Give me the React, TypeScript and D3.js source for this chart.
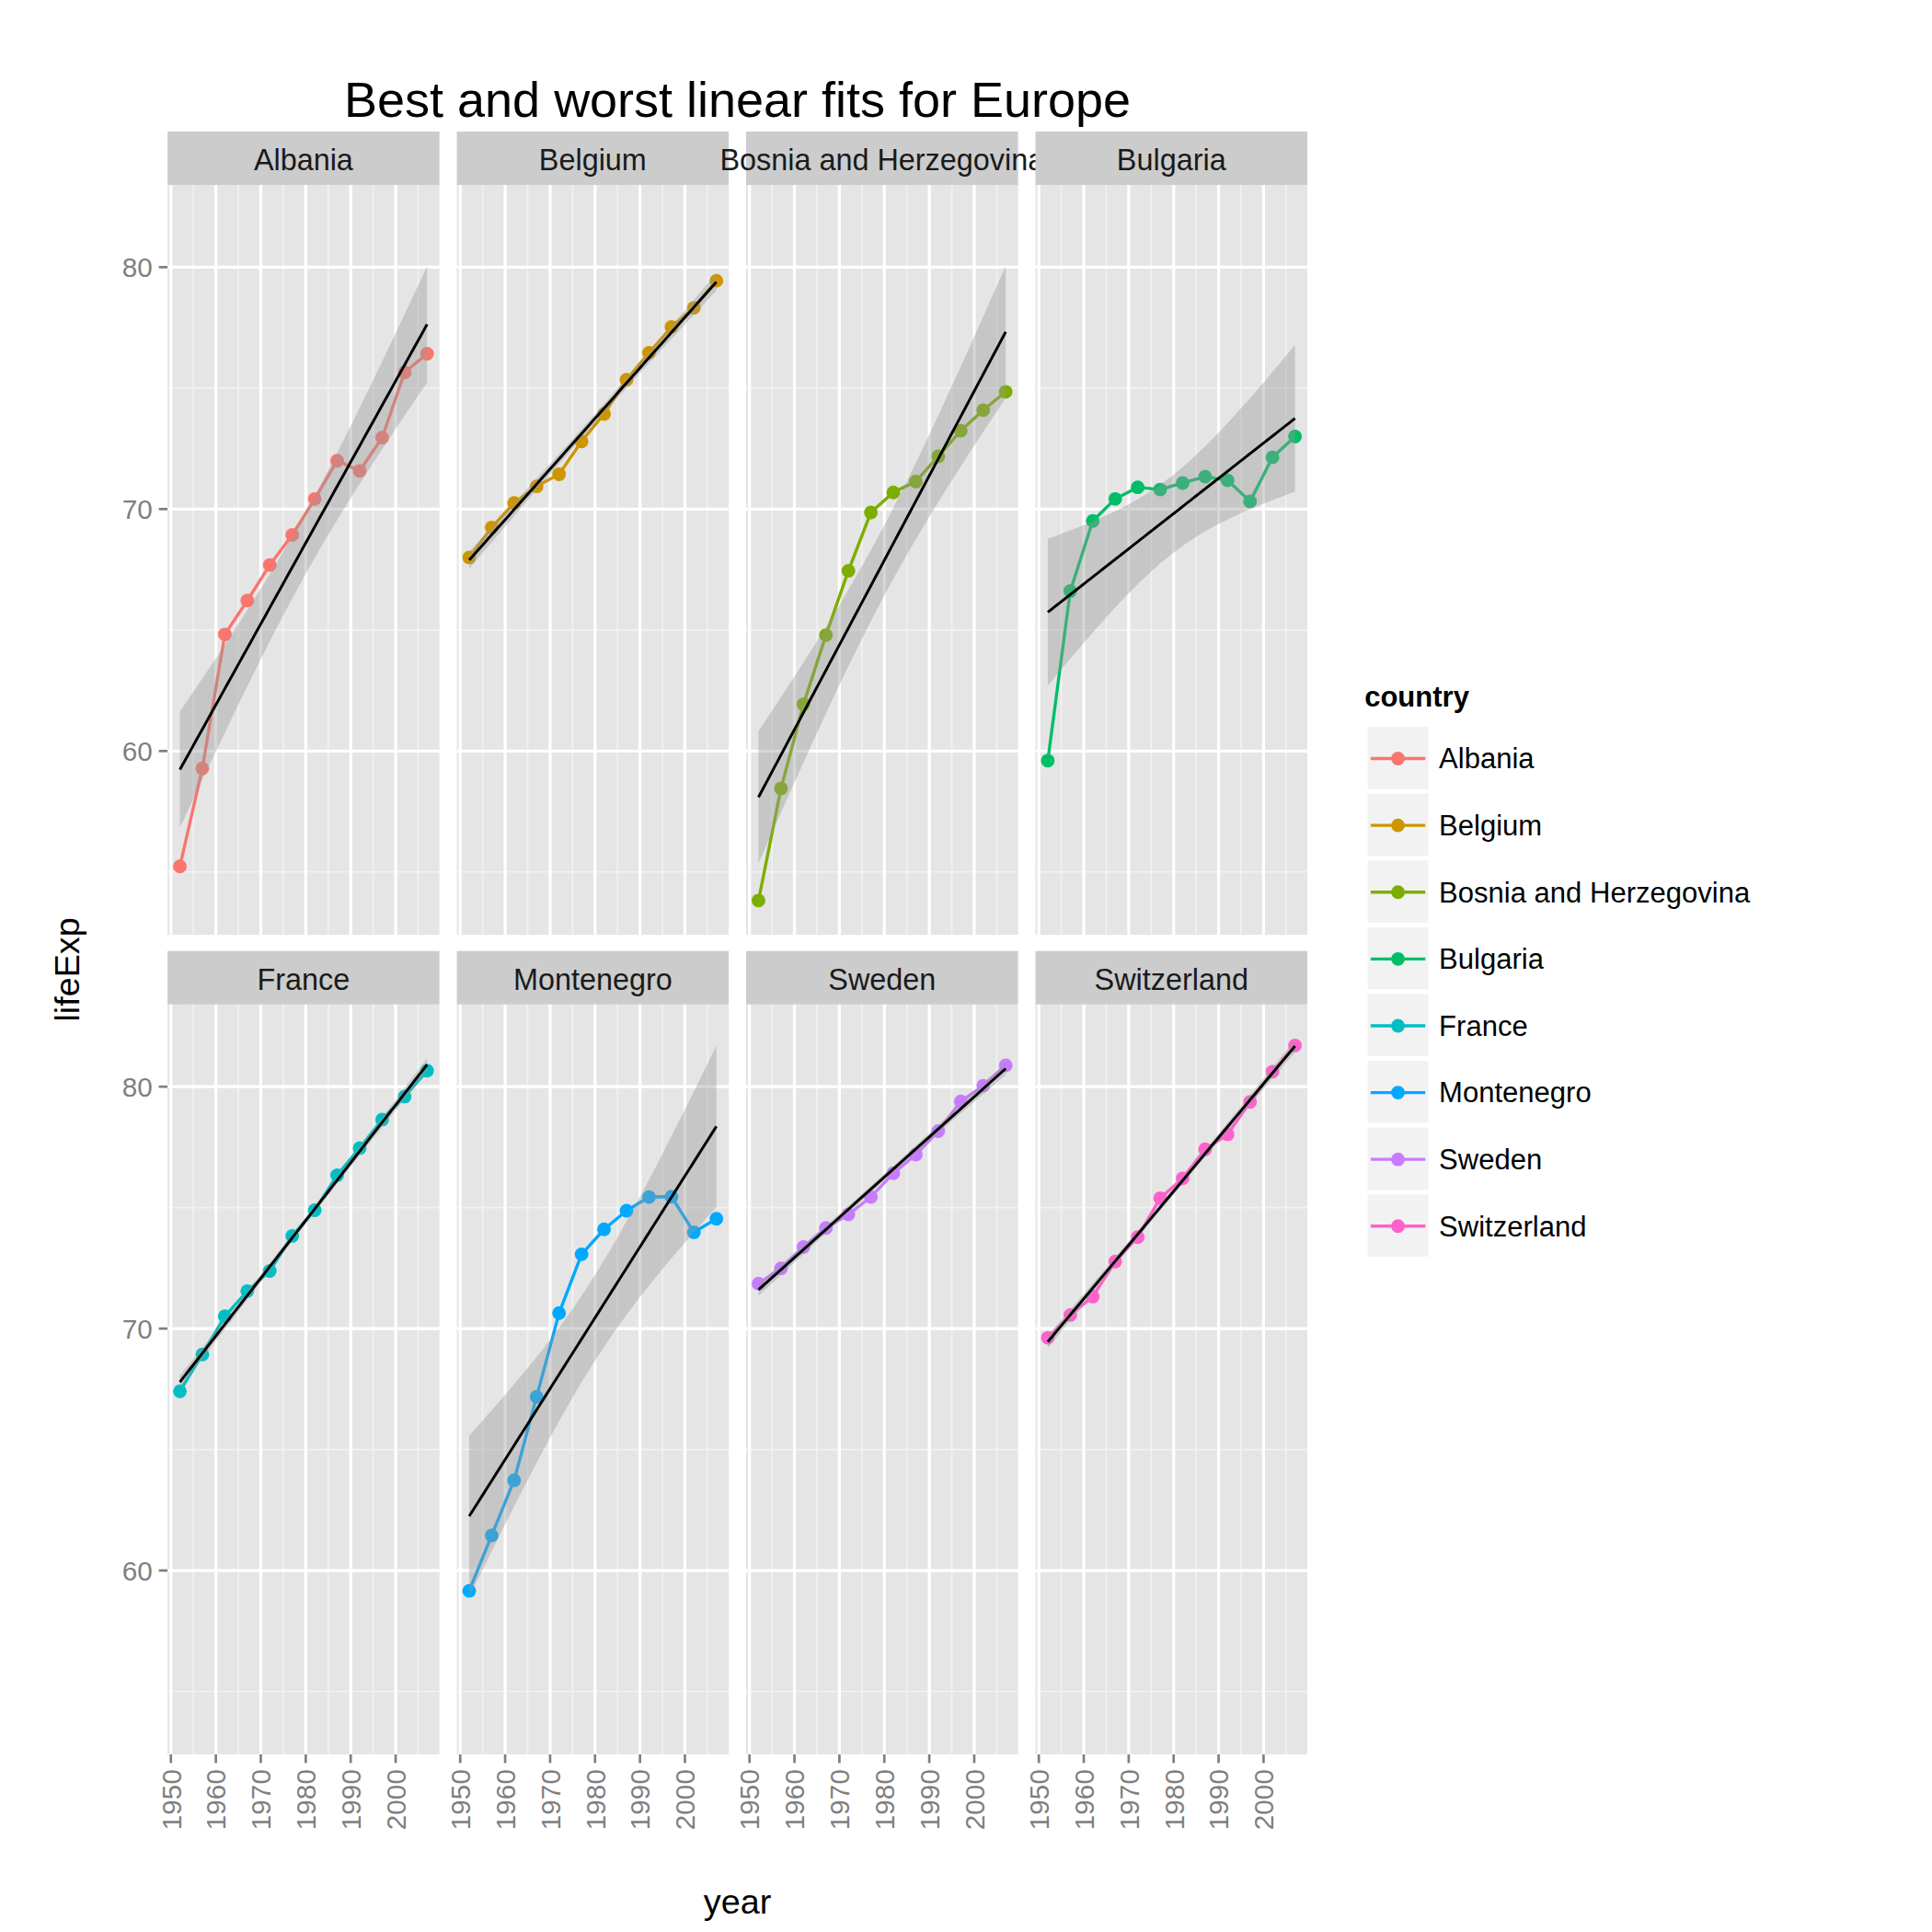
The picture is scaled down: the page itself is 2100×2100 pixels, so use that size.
import React from "react";
import * as d3 from "d3";

const years = [1952, 1957, 1962, 1967, 1972, 1977, 1982, 1987, 1992, 1997, 2002, 2007];
const countries = ["Albania", "Belgium", "Bosnia and Herzegovina", "Bulgaria", "France", "Montenegro", "Sweden", "Switzerland"];
const colors = ["#F8766D", "#CD9600", "#7CAE00", "#00BE67", "#00BFC4", "#00A9FF", "#C77CFF", "#FF61CC"];
const albania = [55.23, 59.28, 64.82, 66.22, 67.69, 68.93, 70.42, 72.0, 71.58, 72.95, 75.65, 76.42];
const belgium = [68.0, 69.24, 70.25, 70.94, 71.44, 72.8, 73.93, 75.35, 76.46, 77.53, 78.32, 79.44];
const bosnia = [53.82, 58.45, 61.93, 64.79, 67.45, 69.86, 70.69, 71.14, 72.18, 73.24, 74.09, 74.85];
const bulgaria = [59.6, 66.61, 69.51, 70.42, 70.9, 70.81, 71.08, 71.34, 71.19, 70.32, 72.14, 73.0];
const france = [67.41, 68.93, 70.51, 71.55, 72.38, 73.83, 74.89, 76.34, 77.46, 78.64, 79.59, 80.66];
const montenegro = [59.16, 61.45, 63.73, 67.18, 70.64, 73.07, 74.1, 74.87, 75.44, 75.45, 73.98, 74.54];
const sweden = [71.86, 72.49, 73.37, 74.16, 74.72, 75.44, 76.42, 77.19, 78.16, 79.39, 80.04, 80.88];
const switzerland = [69.62, 70.56, 71.32, 72.77, 73.78, 75.39, 76.21, 77.41, 78.03, 79.37, 80.62, 81.7];
const series = [albania, belgium, bosnia, bulgaria, france, montenegro, sweden, switzerland];
const yTicks = [60, 70, 80];
const yMinor = [55, 65, 75];
const xTicks = [1950, 1960, 1970, 1980, 1990, 2000];
const xMinor = [1955, 1965, 1975, 1985, 1995, 2005];

function fit(ys: number[]) {
  const n = ys.length;
  const xm = d3.mean(years)!, ym = d3.mean(ys)!;
  let sxx = 0, sxy = 0;
  years.forEach((x, i) => { sxx += (x - xm) ** 2; sxy += (x - xm) * (ys[i] - ym); });
  const b = sxy / sxx, a = ym - b * xm;
  let sse = 0;
  years.forEach((x, i) => { sse += (ys[i] - a - b * x) ** 2; });
  const s = Math.sqrt(sse / (n - 2));
  const t = 2.228;
  return d3.range(0, 81).map(k => {
    const x = 1952 + (55 * k) / 80;
    const y = a + b * x;
    const se = s * Math.sqrt(1 / n + (x - xm) ** 2 / sxx);
    return { x, y, lo: y - t * se, hi: y + t * se };
  });
}

const colX = [129, 362, 595, 828];
const pw = 219;
const rowStrip = [100, 760];
const stripH = 43;
const ph = 604;

export default function App() {
  const x = d3.scaleLinear().domain([1949.25, 2009.75]);
  const font = "Liberation Sans, Arial, sans-serif";
  return (
    <svg width={2100} height={2100} viewBox="0 0 1556 1556" style={{ display: "block" }} fontFamily={font}>
      <rect width={1556} height={1556} fill="white" />
      <text x={588} y={88} textAnchor="middle" fontSize={40}>Best and worst linear fits for Europe</text>
      {series.map((ys, i) => {
        const c = i % 4, r = Math.floor(i / 4);
        const x0 = colX[c];
        const top = rowStrip[r] + stripH;
        const xs = x.copy().range([x0, x0 + pw]);
        const ysc = d3.scaleLinear().domain([52.4, 83.4]).range([top + ph, top]);
        const f = fit(ys);
        const area = d3.area<any>().x(d => xs(d.x)).y0(d => ysc(d.lo)).y1(d => ysc(d.hi));
        const line = d3.line<any>().x(d => xs(d.x)).y(d => ysc(d.y));
        const dl = d3.line<number>().x((_, j) => xs(years[j])).y(d => ysc(d));
        return (
          <g key={i}>
            <rect x={x0} y={top} width={pw} height={ph} fill="#E5E5E5" />
            {yMinor.map(t => <line key={"ym" + t} x1={x0} x2={x0 + pw} y1={ysc(t)} y2={ysc(t)} stroke="#F2F2F2" strokeWidth={1.2} />)}
            {xMinor.map(t => <line key={"xm" + t} x1={xs(t)} x2={xs(t)} y1={top} y2={top + ph} stroke="#F2F2F2" strokeWidth={1.2} />)}
            {yTicks.map(t => <line key={"y" + t} x1={x0} x2={x0 + pw} y1={ysc(t)} y2={ysc(t)} stroke="white" strokeWidth={2.4} />)}
            {xTicks.map(t => <line key={"x" + t} x1={xs(t)} x2={xs(t)} y1={top} y2={top + ph} stroke="white" strokeWidth={2.4} />)}
            <path d={dl(ys)!} fill="none" stroke={colors[i]} strokeWidth={2.5} />
            {ys.map((v, j) => <circle key={j} cx={xs(years[j])} cy={ysc(v)} r={5.5} fill={colors[i]} />)}
            <path d={area(f)!} fill="#999999" fillOpacity={0.4} />
            <path d={line(f)!} fill="none" stroke="black" strokeWidth={2.2} />
            <rect x={x0} y={rowStrip[r]} width={pw} height={stripH} fill="#CCCCCC" />
            <text x={x0 + pw / 2} y={rowStrip[r] + 31} textAnchor="middle" fontSize={24} fill="#1A1A1A">{countries[i]}</text>
            {c === 0 && yTicks.map(t => (
              <g key={"yt" + t}>
                <line x1={x0 - 7} x2={x0} y1={ysc(t)} y2={ysc(t)} stroke="#7F7F7F" strokeWidth={2} />
                <text x={x0 - 12} y={ysc(t) + 8} textAnchor="end" fontSize={22} fill="#7F7F7F">{t}</text>
              </g>
            ))}
            {r === 1 && xTicks.map(t => (
              <g key={"xt" + t}>
                <line x1={xs(t)} x2={xs(t)} y1={top + ph} y2={top + ph + 7} stroke="#7F7F7F" strokeWidth={2} />
                <text transform={`translate(${xs(t) + 8},${top + ph + 12}) rotate(-90)`} textAnchor="end" fontSize={22} fill="#7F7F7F">{t}</text>
              </g>
            ))}
          </g>
        );
      })}
      <text transform="translate(58,775) rotate(-90)" textAnchor="middle" fontSize={28}>lifeExp</text>
      <text x={588} y={1535} textAnchor="middle" fontSize={28}>year</text>
      <text x={1093} y={563} fontSize={23} fontWeight="bold">country</text>
      {countries.map((cn, i) => {
        const cy = 605 + i * 53.8;
        return (
          <g key={cn}>
            <rect x={1095} y={cy - 26} width={50} height={51} fill="#F2F2F2" stroke="white" />
            <line x1={1098} x2={1142} y1={cy} y2={cy} stroke={colors[i]} strokeWidth={2.5} />
            <circle cx={1120} cy={cy} r={5.5} fill={colors[i]} />
            <text x={1153} y={cy + 8} fontSize={23}>{cn}</text>
          </g>
        );
      })}
    </svg>
  );
}
